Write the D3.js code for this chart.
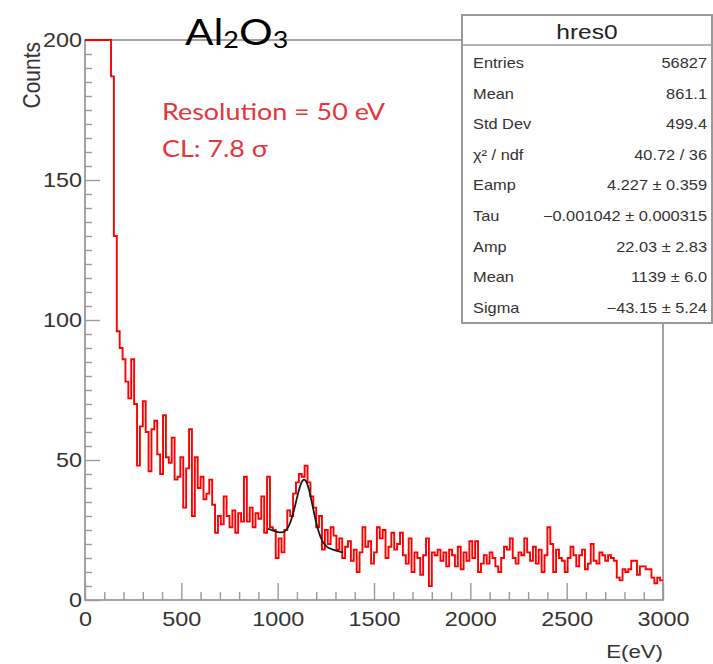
<!DOCTYPE html>
<html>
<head>
<meta charset="utf-8">
<script src="https://cdn.jsdelivr.net/npm/d3@7"></script>
<style>
  html, body { margin: 0; padding: 0; background: #fff; }
  svg { display: block; }
</style>
</head>
<body>
<script>
// Energy histogram hres0: 200 bins of 15 eV between 0 and 3000 eV
const eMin = 0;
const eMax = 3000;
const nBins = 200;

// Counts per bin (first bins lie above the top of the frame)
const counts = [
  260, 255, 250, 245, 240, 235, 230, 225, 220,
  187, 130, 96, 90, 86, 78, 72, 86, 70, 48, 62, 71, 60, 46, 61, 64, 52, 45, 66, 51,
  49, 58, 43, 44, 51, 33, 47, 61, 30, 51,
  40,
  44, 36, 38, 43, 34, 24, 30, 27, 37, 30, 26, 32, 24, 31, 28, 44, 28, 33, 26, 31,
  29, 37, 24, 44, 26, 25, 15, 22, 17, 25, 32, 30, 38, 42, 45,
  44, 48, 42, 37, 33, 26, 30, 18, 25, 20, 26, 23, 18, 22, 15, 19, 21, 14, 18, 10,
  17, 26, 19, 21, 13, 17, 26, 22, 25, 15, 19, 24, 18,
  20, 24, 16, 13, 22, 10, 17, 15, 9, 16, 22, 5, 17, 16, 18, 14, 17, 12, 18, 16,
  12, 19, 11, 17, 14, 21, 15, 21, 10, 13, 16, 13, 17, 15,
  12, 10, 15, 19, 18, 22, 15, 13, 17, 16, 22, 17, 14, 19, 13, 18, 10, 16, 26, 20,
  10, 18, 15, 14, 10, 15, 19,
  16,
  12, 16, 18, 11, 13, 20, 14, 13, 17, 16, 14, 16, 15, 14, 8, 7, 11, 10, 11, 14,
  14, 9, 12, 12, 11, 11, 8, 6, 8, 7
];

// Fit: expo(0) + gaus(2) -> [Eamp, Tau, Amp, Mean, Sigma]
const fitParams = [4.227, -0.001042, 22.03, 1139, -43.15];
const fitRange = [950, 1340];

// Axis ticks
const xMajorTicks = [0, 500, 1000, 1500, 2000, 2500, 3000];
const yMajorTicks = [0, 50, 100, 150, 200];

// Statistics box rows
const statLabels = ["Entries", "Mean", "Std Dev", "χ² / ndf", "Eamp", "Tau", "Amp", "Mean", "Sigma"];
const statValues = ["56827", "861.1", "499.4", "40.72 / 36", "4.227 ± 0.359",
  "−0.001042 ± 0.000315", "22.03 ± 2.83", "1139 ± 6.0", "−43.15 ± 5.24"];

const W = 713, H = 664;
const frame = { left: 85, right: 663, top: 40, bottom: 600 };
const gray = "#9a9a9a";
const axisFont = "'Liberation Sans', Arial, Helvetica, sans-serif";
const noteFont = "Lato, 'Open Sans', sans-serif";
const SX = 1.17; // horizontal widening of the lettering

// Move a text's x/y into a transform so its glyphs can be widened in place
function widen(sel) {
  sel.each(function () {
    const t = d3.select(this);
    const tx = +t.attr("x") || 0, ty = +t.attr("y") || 0;
    t.attr("x", 0).attr("y", 0)
      .attr("transform", `translate(${tx},${ty}) scale(${SX},1)`);
  });
}

const svg = d3.select("body").append("svg")
  .attr("width", W).attr("height", H)
  .attr("viewBox", `0 0 ${W} ${H}`);
svg.append("rect").attr("width", W).attr("height", H).attr("fill", "#fff");

const x = d3.scaleLinear().domain([eMin, eMax]).range([frame.left, frame.right]);
const y = d3.scaleLinear().domain([0, 200]).range([frame.bottom, frame.top]).clamp(true);

// Minor ticks
const xMinor = d3.range(eMin, eMax + 1, 100).filter(v => v % 500 !== 0);
const yMinor = d3.range(0, 201, 5).filter(v => v % 50 !== 0);

const gx = svg.append("g").attr("transform", `translate(0,${frame.bottom})`);
gx.call(d3.axisBottom(x).tickValues(xMajorTicks).tickSize(-17).tickPadding(12)
  .tickFormat(d3.format("d")));
gx.append("g").call(d3.axisBottom(x).tickValues(xMinor).tickSize(-8).tickFormat(""));
gx.selectAll(".domain").remove();

const gy = svg.append("g").attr("transform", `translate(${frame.left},0)`);
gy.call(d3.axisLeft(y).tickValues(yMajorTicks).tickSize(-15).tickPadding(3)
  .tickFormat(d3.format("d")));
gy.append("g").call(d3.axisLeft(y).tickValues(yMinor).tickSize(-7).tickFormat(""));
gy.selectAll(".domain").remove();

svg.selectAll(".tick line").attr("stroke", gray).attr("stroke-width", 1.4);
svg.selectAll(".tick text")
  .attr("font-family", axisFont).attr("font-size", 20).attr("fill", "#333")
  .call(widen);

// Frame
svg.append("rect")
  .attr("x", frame.left).attr("y", frame.top)
  .attr("width", frame.right - frame.left).attr("height", frame.bottom - frame.top)
  .attr("fill", "none").attr("stroke", gray).attr("stroke-width", 1.8);

// Histogram outline
const binW = (eMax - eMin) / nBins;
const steps = counts.map((c, i) => [eMin + i * binW, c]);
steps.push([eMax, counts[counts.length - 1]]);
const histLine = d3.line()
  .x(d => x(d[0])).y(d => y(d[1]))
  .curve(d3.curveStepAfter);
svg.append("path")
  .attr("d", histLine(steps))
  .attr("fill", "none").attr("stroke", "#ff0000").attr("stroke-width", 1.9);

// Fit curve
const [p0, p1, p2, p3, p4] = fitParams;
const fitFn = e => Math.exp(p0 + p1 * e) + p2 * Math.exp(-0.5 * Math.pow((e - p3) / p4, 2));
const fitPts = d3.range(fitRange[0], fitRange[1] + 0.1, 2).map(e => [e, fitFn(e)]);
svg.append("path")
  .attr("d", d3.line().x(d => x(d[0])).y(d => y(d[1]))(fitPts))
  .attr("fill", "none").attr("stroke", "#1a1a1a").attr("stroke-width", 1.8);

// Axis titles
svg.append("text")
  .attr("x", frame.right).attr("y", 658)
  .attr("text-anchor", "end")
  .attr("font-family", axisFont).attr("font-size", 19).attr("fill", "#333")
  .text("E(eV)")
  .call(widen);
svg.append("text")
  .attr("transform", `translate(40,${frame.top + 2}) rotate(-90) scale(1,${SX})`)
  .attr("text-anchor", "end")
  .attr("font-family", axisFont).attr("font-size", 21).attr("fill", "#333")
  .text("Counts");

// Title
const title = svg.append("text")
  .attr("x", 185).attr("y", 45)
  .attr("font-family", noteFont).attr("font-size", 36).attr("fill", "#000");
title.append("tspan").text("Al");
title.append("tspan").attr("font-size", 23).attr("dy", 3).text("2");
title.append("tspan").attr("dy", -3).text("O");
title.append("tspan").attr("font-size", 23).attr("dy", 3).text("3");
title.call(widen);

// Annotation
svg.append("text")
  .attr("x", 162).attr("y", 120)
  .attr("font-family", noteFont).attr("font-size", 23).attr("fill", "#e5363c")
  .text("Resolution = 50 eV")
  .call(widen);
svg.append("text")
  .attr("x", 162).attr("y", 157)
  .attr("font-family", noteFont).attr("font-size", 23).attr("fill", "#e5363c")
  .text("CL: 7.8 σ")
  .call(widen);

// Statistics box
const box = { x: 462, y: 15, w: 250, h: 308 };
const gs = svg.append("g");
gs.append("rect")
  .attr("x", box.x).attr("y", box.y).attr("width", box.w).attr("height", box.h)
  .attr("fill", "#fff").attr("stroke", gray).attr("stroke-width", 2);
gs.append("line")
  .attr("x1", box.x).attr("x2", box.x + box.w)
  .attr("y1", 45).attr("y2", 45)
  .attr("stroke", gray).attr("stroke-width", 1.6);
gs.append("text")
  .attr("x", box.x + box.w / 2).attr("y", 39)
  .attr("text-anchor", "middle")
  .attr("font-family", axisFont).attr("font-size", 21).attr("fill", "#222")
  .text("hres0")
  .call(widen);
const rowY = d3.scaleLinear().domain([0, statLabels.length - 1]).range([63, 308]);
statLabels.forEach((lab, i) => {
  gs.append("text")
    .attr("x", box.x + 11).attr("y", rowY(i)).attr("dy", "0.35em")
    .attr("font-family", axisFont).attr("font-size", 14).attr("fill", "#333")
    .text(lab)
    .call(widen);
  gs.append("text")
    .attr("x", box.x + box.w - 5).attr("y", rowY(i)).attr("dy", "0.35em")
    .attr("text-anchor", "end")
    .attr("font-family", axisFont).attr("font-size", 14).attr("fill", "#333")
    .text(statValues[i])
    .call(widen);
});
</script>
</body>
</html>
